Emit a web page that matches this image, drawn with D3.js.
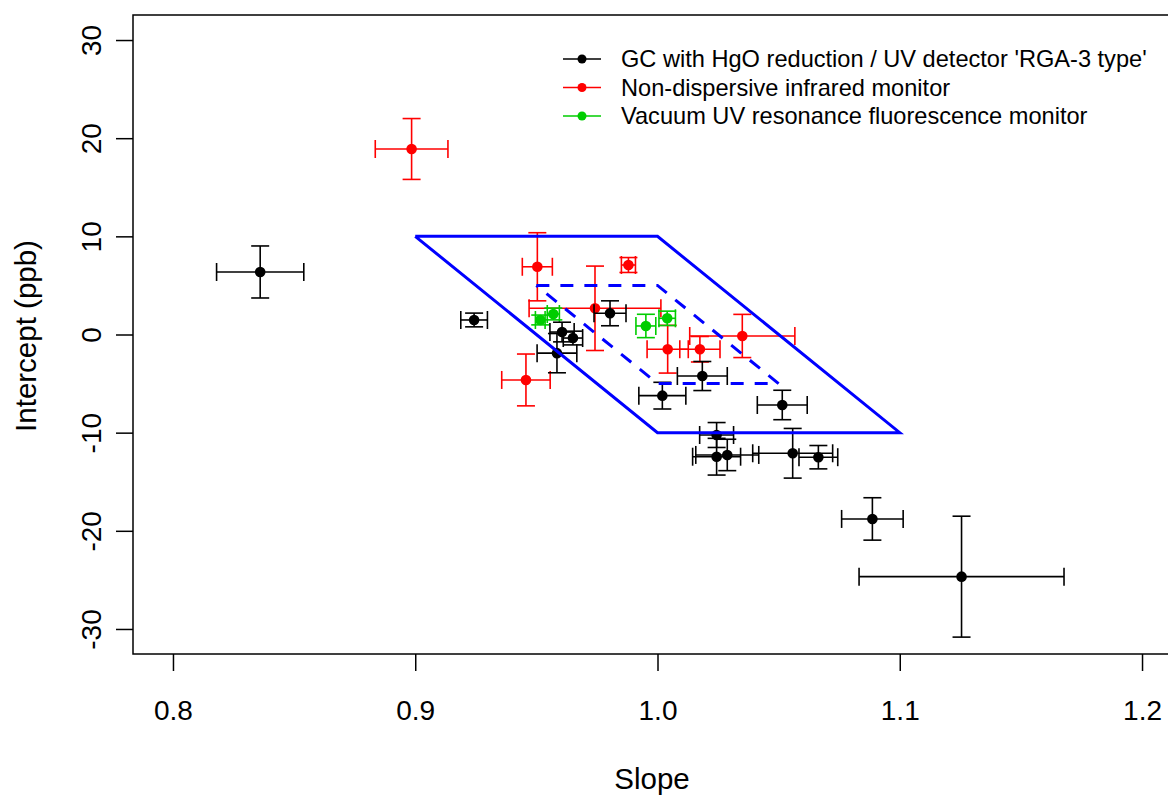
<!DOCTYPE html>
<html>
<head>
<meta charset="utf-8">
<script src="https://cdn.jsdelivr.net/npm/d3@7"></script>
<style>
  body { margin: 0; background: #fff; }
  svg { display: block; font-family: "Liberation Sans", Arial, sans-serif; }
</style>
</head>
<body>
<svg id="chart"></svg>
<script>
// data
const seriesNames = ["GC with HgO reduction / UV detector 'RGA-3 type'",
                     "Non-dispersive infrared monitor",
                     "Vacuum UV resonance fluorescence monitor"];
const seriesColors = ["#000000", "#FF0000", "#00CD00"];

const gcSlope = [0.836, 0.9243, 0.9585, 0.9606, 0.9651, 0.9804, 1.002, 1.0185,
                 1.0515, 1.0244, 1.0244, 1.0288, 1.0558, 1.0664, 1.0887, 1.1255];
const gcIntercept = [6.37, 1.48, -1.9, 0.25, -0.36, 2.16, -6.23, -4.23,
                     -7.18, -10.24, -12.45, -12.27, -12.1, -12.5, -18.79, -24.67];
const gcSlopeErr = [0.018, 0.0055, 0.0082, 0.005, 0.004, 0.0066, 0.0097, 0.0103,
                    0.0103, 0.007, 0.0099, 0.013, 0.0165, 0.008, 0.0127, 0.0423];
const gcInterceptErr = [2.65, 0.7, 2.0, 1.0, 0.7, 1.27, 1.36, 1.48,
                        1.5, 1.27, 1.87, 1.6, 2.53, 1.19, 2.16, 6.16];

const ndirSlope = [0.8985, 0.9504, 0.988, 0.9742, 0.9457, 1.0042, 1.0175, 1.035];
const ndirIntercept = [18.9, 6.9, 7.08, 2.67, -4.63, -1.5, -1.5, -0.15];
const ndirSlopeErr = [0.015, 0.0062, 0.0029, 0.0272, 0.01, 0.0085, 0.0083, 0.0217];
const ndirInterceptErr = [3.1, 3.47, 0.76, 4.3, 2.64, 2.43, 1.3, 2.2];

const vufSlope = [0.9516, 0.957, 0.9952, 1.004];
const vufIntercept = [1.48, 2.09, 0.87, 1.65];
const vufSlopeErr = [0.002, 0.0025, 0.0041, 0.0034];
const vufInterceptErr = [0.5, 0.6, 1.19, 0.73];

// acceptance regions
const outerSlope = [0.9, 1.0, 1.1, 1.0, 0.9];
const outerIntercept = [10, 10, -10, -10, 10];
const innerSlope = [0.95, 1.0, 1.05, 1.0, 0.95];
const innerIntercept = [5, 5, -5, -5, 5];

const xTicks = [0.8, 0.9, 1.0, 1.1, 1.2];
const yTicks = [-30, -20, -10, 0, 10, 20, 30];

// drawing constants
const W = 1168, H = 796;
const LEFT = 133, RIGHT = 1182, TOP = 15, BOTTOM = 654;
const CAP = 9;

const svg = d3.select('#chart').attr('width', W).attr('height', H);

const x = d3.scaleLinear().domain([0.7835, 1.2165]).range([LEFT, RIGHT]);
const y = d3.scaleLinear().domain([-32.55, 32.55]).range([BOTTOM, TOP]);

// plot box
svg.append('rect')
  .attr('x', LEFT).attr('y', TOP)
  .attr('width', RIGHT - LEFT).attr('height', BOTTOM - TOP)
  .attr('fill', 'none').attr('stroke', '#000').attr('stroke-width', 1.5);

// x axis
const gx = svg.append('g')
  .attr('transform', `translate(0,${BOTTOM})`)
  .call(d3.axisBottom(x).tickValues(xTicks).tickFormat(d3.format('.1f'))
    .tickSize(17).tickSizeOuter(0).tickPadding(29));
gx.select('.domain').remove();
gx.selectAll('line').attr('stroke-width', 1.5);
gx.selectAll('text').attr('font-size', 28).attr('font-family', null).attr('fill', '#000');

// y axis, labels turned like R's las = 0
const gy = svg.append('g')
  .attr('transform', `translate(${LEFT},0)`)
  .call(d3.axisLeft(y).tickValues(yTicks).tickFormat(d => String(d))
    .tickSize(17).tickSizeOuter(0));
gy.select('.domain').remove();
gy.selectAll('line').attr('stroke-width', 1.5);
gy.selectAll('text')
  .attr('x', null).attr('dy', null)
  .attr('text-anchor', 'middle')
  .attr('transform', 'translate(-32,0) rotate(-90)')
  .attr('font-size', 28).attr('font-family', null).attr('fill', '#000');

// axis titles
svg.append('text')
  .attr('x', 652).attr('y', 789)
  .attr('text-anchor', 'middle').attr('font-size', 29.5)
  .text('Slope');
svg.append('text')
  .attr('transform', `translate(36,336) rotate(-90)`)
  .attr('text-anchor', 'middle').attr('font-size', 29.5)
  .text('Intercept (ppb)');

// one group of points with error bars in both directions
function drawSeries(xs, ys, xe, ye, color) {
  const g = svg.append('g').attr('stroke', color).attr('stroke-width', 1.6).attr('fill', color);
  xs.forEach((sv, i) => {
    const cx = x(sv), cy = y(ys[i]);
    const x0 = x(sv - xe[i]), x1 = x(sv + xe[i]);
    const y0 = y(ys[i] - ye[i]), y1 = y(ys[i] + ye[i]);
    g.append('line').attr('x1', x0).attr('x2', x1).attr('y1', cy).attr('y2', cy);
    g.append('line').attr('x1', x0).attr('x2', x0).attr('y1', cy - CAP).attr('y2', cy + CAP);
    g.append('line').attr('x1', x1).attr('x2', x1).attr('y1', cy - CAP).attr('y2', cy + CAP);
    g.append('line').attr('x1', cx).attr('x2', cx).attr('y1', y0).attr('y2', y1);
    g.append('line').attr('x1', cx - CAP).attr('x2', cx + CAP).attr('y1', y0).attr('y2', y0);
    g.append('line').attr('x1', cx - CAP).attr('x2', cx + CAP).attr('y1', y1).attr('y2', y1);
    g.append('circle').attr('cx', cx).attr('cy', cy).attr('r', 5.3).attr('stroke', 'none');
  });
}

drawSeries(ndirSlope, ndirIntercept, ndirSlopeErr, ndirInterceptErr, seriesColors[1]);
drawSeries(vufSlope, vufIntercept, vufSlopeErr, vufInterceptErr, seriesColors[2]);
drawSeries(gcSlope, gcIntercept, gcSlopeErr, gcInterceptErr, seriesColors[0]);

// acceptance parallelograms
const line = d3.line().x(d => x(d[0])).y(d => y(d[1]));
svg.append('path')
  .attr('d', line(outerSlope.map((s, i) => [s, outerIntercept[i]])))
  .attr('fill', 'none').attr('stroke', '#0000FF').attr('stroke-width', 3);
svg.append('path')
  .attr('d', line(innerSlope.map((s, i) => [s, innerIntercept[i]])))
  .attr('fill', 'none').attr('stroke', '#0000FF').attr('stroke-width', 3)
  .attr('stroke-dasharray', '13,11');

// legend
const legend = svg.append('g');
seriesNames.forEach((name, i) => {
  const ly = 59 + i * 28.5;
  legend.append('line').attr('x1', 563).attr('x2', 601).attr('y1', ly).attr('y2', ly)
    .attr('stroke', seriesColors[i]).attr('stroke-width', 1.6);
  legend.append('circle').attr('cx', 582).attr('cy', ly).attr('r', 4.5).attr('fill', seriesColors[i]);
  legend.append('text').attr('x', 621).attr('y', ly).attr('dy', '0.35em')
    .attr('font-size', 23.6).text(name);
});
</script>
</body>
</html>
